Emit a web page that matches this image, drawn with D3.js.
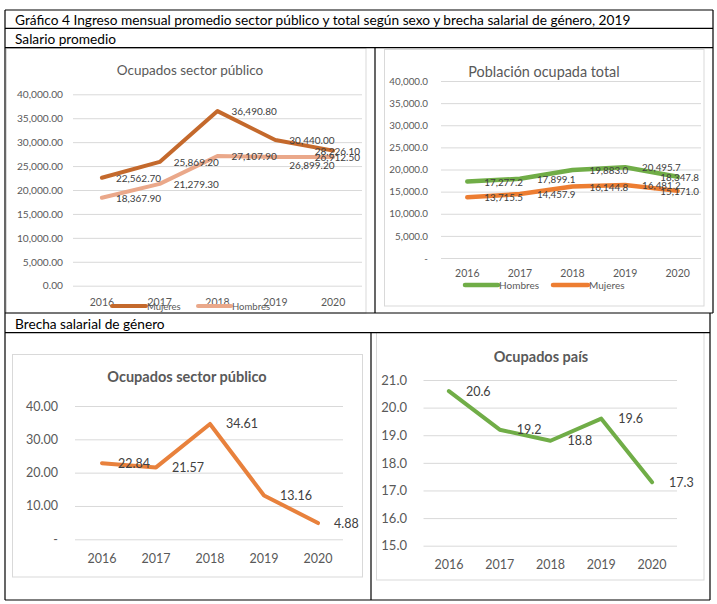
<!DOCTYPE html>
<html>
<head>
<meta charset="utf-8">
<script src="https://cdn.jsdelivr.net/npm/d3@7"></script>
<style>
  body { margin: 0; background: #fff; }
  svg { display: block; font-family: Lato, "Open Sans", sans-serif; }
</style>
</head>
<body>
<svg></svg>
<script>
const width = 717;
const height = 604;
const svg = d3.select("svg").attr("width", width).attr("height", height);

// data
const years = ["2016", "2017", "2018", "2019", "2020"];
const publicoMujeres = [22562.7, 25869.2, 36490.8, 30440.0, 28226.1];
const publicoHombres = [18367.9, 21279.3, 27107.9, 26899.2, 26912.5];
const totalHombres = [17277.2, 17899.1, 19883.0, 20495.7, 18347.8];
const totalMujeres = [13715.5, 14457.9, 16144.8, 16481.2, 15171.0];
const brechaPublico = [22.84, 21.57, 34.61, 13.16, 4.88];
const brechaPais = [20.6, 19.2, 18.8, 19.6, 17.3];

const ticksSalario = [0, 5000, 10000, 15000, 20000, 25000, 30000, 35000, 40000];
const ticksBrechaPublico = [0, 10, 20, 30, 40];
const ticksBrechaPais = [15, 16, 17, 18, 19, 20, 21];

const titulo = "Gráfico 4 Ingreso mensual promedio sector público y total según sexo y brecha salarial de género, 2019";

const grey = "#595959";
const labelGrey = "#404040";

// table frame
function hline(y, x1, x2) {
	svg.append("line").attr("x1", x1).attr("x2", x2).attr("y1", y).attr("y2", y)
	.attr("stroke", "#000").attr("stroke-width", 1.2);
}
function vline(x, y1, y2) {
	svg.append("line").attr("x1", x).attr("x2", x).attr("y1", y1).attr("y2", y2)
	.attr("stroke", "#000").attr("stroke-width", 1.2);
}

function frame(x, y, w, h) {
	svg.append("rect").attr("x", x).attr("y", y).attr("width", w).attr("height", h)
	.attr("fill", "#fff").attr("stroke", "#d9d9d9").attr("stroke-width", 1);
}

function drawChart(c) {
	const g = svg.append("g");
	const x = d3.scaleBand().domain(years).range([c.x0, c.x1]);
	const y = d3.scaleLinear().domain(c.domain).range([c.y0, c.y1]);

	// gridlines
	g.append("g")
	.attr("transform", `translate(${c.x0},0)`)
	.call(d3.axisLeft(y).tickValues(c.ticks).tickSize(-(c.gridEnd - c.x0)).tickFormat(""))
	.call(a => a.select(".domain").remove())
	.selectAll("line").attr("stroke", "#d9d9d9");

	// y labels
	const ya = g.append("g")
	.attr("transform", `translate(${c.tickX},0)`)
	.call(d3.axisLeft(y).tickValues(c.ticks).tickSize(0).tickPadding(0).tickFormat(c.fmt));
	ya.select(".domain").remove();
	ya.selectAll("text").attr("fill", grey).style("font-size", c.tickSize + "px")
	.style("font-family", "Lato, sans-serif");

	// x labels
	const xa = g.append("g")
	.attr("transform", `translate(0,${c.xLabelY})`)
	.call(d3.axisBottom(x).tickSize(0).tickPadding(0));
	xa.select(".domain").remove();
	xa.selectAll("text").attr("fill", grey).attr("dy", "0.35em")
	.style("font-size", c.xSize + "px").style("font-family", "Lato, sans-serif");

	// title
	g.append("text")
	.attr("x", c.titleX).attr("y", c.titleY)
	.attr("text-anchor", "middle").attr("dominant-baseline", "central")
	.attr("fill", grey)
	.style("font-size", c.titleSize + "px")
	.style("font-weight", c.titleBold ? "bold" : "normal")
	.text(c.title);

	const line = d3.line()
	.x((d, i) => x(years[i]) + x.bandwidth() / 2)
	.y(d => y(d));

	c.series.forEach(s => {
		g.append("path")
		.attr("d", line(s.values))
		.attr("fill", "none")
		.attr("stroke", s.color)
		.attr("stroke-width", s.width)
		.attr("stroke-linejoin", "round")
		.attr("stroke-linecap", "round");
	});

	c.series.forEach(s => {
		s.values.forEach((v, i) => {
			const px = x(years[i]) + x.bandwidth() / 2 + c.labelDx;
			const t = g.append("text")
			.attr("x", px)
			.attr("y", y(v) + (s.nudge ? s.nudge[i] : 0))
			.attr("dominant-baseline", "central")
			.attr("fill", labelGrey)
			.style("font-size", c.labelSize + "px")
			.text(c.labelFmt(v));
			const w = t.node().getComputedTextLength();
			if (px + w > c.labelLimit) {
				t.attr("x", c.labelLimit).attr("text-anchor", "end");
			}
		});
	});

	if (c.legend) {
		c.legend.forEach((l, i) => {
			const s = c.series[l.series];
			g.append("line")
			.attr("x1", l.x).attr("x2", l.x + l.len)
			.attr("y1", c.legendY).attr("y2", c.legendY)
			.attr("stroke", s.color).attr("stroke-width", s.width)
			.attr("stroke-linecap", "round");
			g.append("text")
			.attr("x", l.x + l.len + 1).attr("y", c.legendY)
			.attr("dominant-baseline", "central")
			.attr("fill", grey)
			.style("font-size", c.legendSize + "px")
			.text(l.name);
		});
	}
}

// chart backgrounds
frame(6.5, 48.5, 359.5, 264.5);
frame(384.5, 49.5, 319.5, 256.5);
frame(12.5, 354.5, 350, 222.5);
frame(376.5, 332.5, 327.5, 247.5);

// table lines
hline(10, 5, 713);
hline(28.3, 5, 713);
hline(47.7, 5, 713);
hline(313, 5, 713);
hline(332.7, 5, 710);
hline(600, 5, 710);
vline(5, 10, 600);
vline(713, 10, 313);
vline(710, 313, 600);
vline(375, 47.7, 313);
vline(371, 332.7, 600);

svg.append("text").attr("x", 15).attr("y", 19.5).attr("dominant-baseline", "central")
.style("font-size", "13.7px").attr("fill", "#000").text(titulo);
svg.append("text").attr("x", 15).attr("y", 38.3).attr("dominant-baseline", "central")
.style("font-size", "13.7px").attr("fill", "#000").text("Salario promedio");
svg.append("text").attr("x", 15).attr("y", 323).attr("dominant-baseline", "central")
.style("font-size", "13.7px").attr("fill", "#000").text("Brecha salarial de género");

const fmt2 = d3.format(",.2f");
const fmt1 = d3.format(",.1f");

drawChart({
	x0: 73, x1: 362, gridEnd: 362, y0: 285.7, y1: 94.3, domain: [0, 40000],
	ticks: ticksSalario, fmt: fmt2, tickX: 63, tickSize: 10.2,
	xLabelY: 302.7, xSize: 10.5,
	title: "Ocupados sector público", titleX: 190, titleY: 70, titleSize: 13.5,
	labelDx: 14, labelSize: 10, labelFmt: fmt2, labelLimit: 360,
	series: [
		{ values: publicoMujeres, color: "#c4692c", width: 4 },
		{ values: publicoHombres, color: "#eaa88a", width: 4, nudge: [0, 0, 0, 8, 0] }
	],
	legendY: 306, legendSize: 9.5,
	legend: [
		{ series: 0, name: "Mujeres", x: 112, len: 34 },
		{ series: 1, name: "Hombres", x: 198, len: 33 }
	]
});

drawChart({
	x0: 441, x1: 704, gridEnd: 701, y0: 258, y1: 81, domain: [0, 40000],
	ticks: ticksSalario, fmt: d => d === 0 ? "-" : fmt1(d), tickX: 428, tickSize: 9.8,
	xLabelY: 273.3, xSize: 10.5,
	title: "Población ocupada total", titleX: 544, titleY: 71, titleSize: 14.4,
	labelDx: 17, labelSize: 9.8, labelFmt: fmt1, labelLimit: 699,
	series: [
		{ values: totalHombres, color: "#70ad47", width: 4.5 },
		{ values: totalMujeres, color: "#ed7d31", width: 4.5 }
	],
	legendY: 285, legendSize: 10,
	legend: [
		{ series: 0, name: "Hombres", x: 465, len: 33 },
		{ series: 1, name: "Mujeres", x: 553, len: 35 }
	]
});

drawChart({
	x0: 75, x1: 345, gridEnd: 343, y0: 539.3, y1: 406, domain: [0, 40],
	ticks: ticksBrechaPublico, fmt: d => d === 0 ? "-" : d3.format(".2f")(d), tickX: 58, tickSize: 12.5,
	xLabelY: 558.3, xSize: 12.5,
	title: "Ocupados sector público", titleX: 187, titleY: 376.7, titleSize: 14.5, titleBold: true,
	labelDx: 16, labelSize: 12.5, labelFmt: d3.format(".2f"), labelLimit: 362,
	series: [
		{ values: brechaPublico, color: "#e8813c", width: 4 }
	]
});

drawChart({
	x0: 423.5, x1: 677.5, gridEnd: 677, y0: 545.7, y1: 380, domain: [15, 21],
	ticks: ticksBrechaPais, fmt: d3.format(".1f"), tickX: 407, tickSize: 13,
	xLabelY: 565, xSize: 12.5,
	title: "Ocupados país", titleX: 541, titleY: 356.7, titleSize: 14.5, titleBold: true,
	labelDx: 17, labelSize: 12.5, labelFmt: d3.format(".1f"), labelLimit: 703,
	series: [
		{ values: brechaPais, color: "#70ad47", width: 4 }
	]
});
</script>
</body>
</html>
